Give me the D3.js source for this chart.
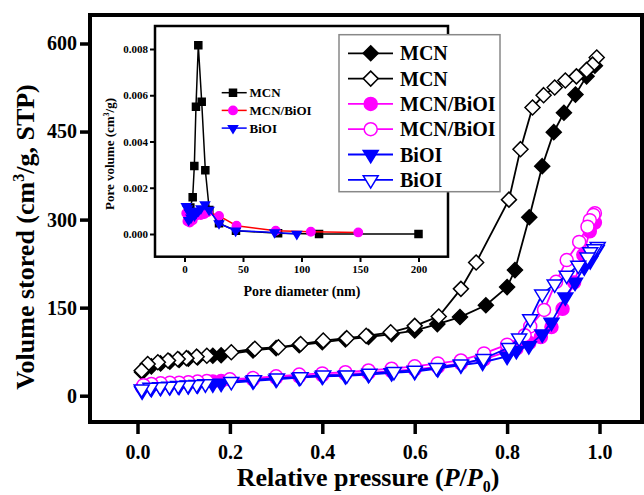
<!DOCTYPE html>
<html><head><meta charset="utf-8">
<script src="https://cdn.jsdelivr.net/npm/d3@7"></script>
<style>
html,body{margin:0;padding:0;background:#fff;}
svg text{font-family:"Liberation Serif","Times New Roman",serif;font-weight:bold;}
</style></head>
<body><svg id="c" width="644" height="495"></svg>
<script>
// ---------- main isotherm data ----------
const mcnAdsP = [0.01,0.03,0.05,0.07,0.09,0.11,0.13,0.163,0.181,0.25,0.3,0.35,0.4,0.45,0.5,0.55,0.6,0.649,0.698,0.754,0.8,0.817,0.848,0.876,0.901,0.923,0.948,0.972,0.99];
const mcnAdsV = [40,50,55,58,61,63,65,68,69,77,81,86,91,96,100,105,111,122,134,154,185,214,304,391,449,482,513,544,562];
const mcnDesP = [0.994,0.985,0.972,0.95,0.926,0.903,0.879,0.855,0.829,0.804,0.733,0.7,0.652,0.6,0.548,0.495,0.453,0.402,0.353,0.305,0.254,0.203,0.15,0.128,0.106,0.087,0.066,0.044,0.022,0.009];
const mcnDesV = [576,564,555,544,537,525,512,491,420,334,227,182,135,119,108,102,98,94,88,82.5,80,74,68,66.5,64,62.6,60,57,54,42.7];

const compAdsP = [0.01,0.03,0.05,0.07,0.09,0.11,0.13,0.163,0.181,0.25,0.3,0.35,0.4,0.45,0.5,0.55,0.6,0.65,0.7,0.75,0.8,0.82,0.848,0.873,0.896,0.92,0.945,0.965,0.979,0.99];
const compAdsV = [14,17,19,20,21,22,23,24,25,28,31,33,35,37,39,42,45,49,55,62,75,80,90,100,117,148,193,240,280,295];
const compDesP = [0.99,0.987,0.979,0.974,0.956,0.929,0.906,0.88,0.85,0.838,0.8,0.75,0.7,0.65,0.6,0.55,0.5,0.45,0.4,0.35,0.3,0.25,0.2,0.15,0.13,0.11,0.09,0.07,0.05,0.03,0.013];
const compDesV = [311,308,299,288,262,231,194,146,118,103,87,72,60,55,50,46,43,40,38,36,33,30,28,25,24,23,22,22,21,20,18];

const bioiAdsP = [0.01,0.03,0.05,0.07,0.09,0.11,0.13,0.163,0.181,0.25,0.3,0.35,0.4,0.45,0.5,0.55,0.6,0.65,0.7,0.747,0.8,0.82,0.847,0.876,0.896,0.926,0.947,0.967,0.98,0.994];
const bioiAdsV = [8,12,14,15,16,17,18,20,21,25,28,31,33,34,36,39,41,46,52,57,67,77,85,105,125,168,193,219,230,249];
const bioiDesP = [0.996,0.989,0.98,0.974,0.954,0.929,0.903,0.876,0.85,0.826,0.804,0.749,0.7,0.647,0.6,0.555,0.502,0.453,0.402,0.353,0.302,0.252,0.203,0.147,0.128,0.109,0.088,0.069,0.049,0.028,0.009];
const bioiDesV = [254,250,245,236,222,205,190,173,131,98,82,63,54,48,43,41,38,35,35,32,30,27,24,20,19,18,17,16,15,14,11];

const xTicks = [0.0,0.2,0.4,0.6,0.8,1.0];
const yTicks = [0,150,300,450,600];
const legendLabels = ["MCN","MCN","MCN/BiOI","MCN/BiOI","BiOI","BiOI"];

// ---------- inset pore size data ----------
const inMcnD = [3,5,7,8.4,9.8,11.8,14.7,17.8,21.2,29.5,44,80,115,200];
const inMcnV = [0.0009,0.00115,0.00159,0.00294,0.0055,0.00816,0.00572,0.00276,0.00104,0.00046,0.00014,0.00003,0.0,0.0];
const inCompD = [1.5,2.5,3.5,4.5,5.5,7,8.5,10,12,14,17,20,29.5,44.5,78,108,148.5];
const inCompV = [0.0009,0.00055,0.0007,0.0005,0.0008,0.0006,0.0009,0.0008,0.00085,0.00082,0.00086,0.00095,0.00078,0.00036,0.00014,0.0001,0.00007];
const inBioiD = [1.5,2.5,3.5,4.5,5.5,7,8.5,10,12,14,17.5,21,29.5,43.7,77,96];
const inBioiV = [0.0012,0.0011,0.0006,0.0009,0.0007,0.001,0.0008,0.0009,0.001,0.0011,0.00128,0.00104,0.00046,0.00014,0.00007,0.0];
const inXTicks = [0,50,100,150,200];
const inYTicks = [0,0.002,0.004,0.006,0.008];
const inLegend = ["MCN","MCN/BiOI","BiOI"];

const svg = d3.select("#c");
const zip = (a,b)=>a.map((v,i)=>[v,b[i]]);

function markerPath(type, s){
  if(type==="diamond") return `M0,${-s}L${s},0L0,${s}L${-s},0Z`;
  if(type==="tri") return `M${-s},${-s*0.55}L${s},${-s*0.55}L0,${s*1.1}Z`;
  if(type==="square") return `M${-s},${-s}H${s}V${s}H${-s}Z`;
  return null;
}
function drawMarker(g, type, size, cx, cy, color, filled){
  if(type==="circle"){
    g.append("circle").attr("cx",cx).attr("cy",cy).attr("r",size)
     .attr("fill",filled?color:"#fff").attr("stroke",color).attr("stroke-width",1.5);
  } else {
    g.append("path").attr("d",markerPath(type,size)).attr("transform",`translate(${cx},${cy})`)
     .attr("fill",filled?color:"#fff").attr("stroke",color).attr("stroke-width",1.5);
  }
}

// ---------- main plot ----------
const x = d3.scaleLinear().domain([0,1]).range([137.5,599.5]);
const y = d3.scaleLinear().domain([0,600]).range([395.7,43.5]);
const line = d3.line().x(d=>x(d[0])).y(d=>y(d[1]));

const series = [
  {p:mcnAdsP,v:mcnAdsV,color:"#000",type:"diamond",size:7.5,filled:true},
  {p:mcnDesP,v:mcnDesV,color:"#000",type:"diamond",size:7.5,filled:false},
  {p:compAdsP,v:compAdsV,color:"#ff00ff",type:"circle",size:6.5,filled:true},
  {p:compDesP,v:compDesV,color:"#ff00ff",type:"circle",size:6.5,filled:false},
  {p:bioiAdsP,v:bioiAdsV,color:"#0000ff",type:"tri",size:7.5,filled:true},
  {p:bioiDesP,v:bioiDesV,color:"#0000ff",type:"tri",size:7.5,filled:false}
];

const plot = svg.append("g");
series.forEach(s=>{
  const data = zip(s.p,s.v);
  plot.append("path").datum(data).attr("d",line).attr("fill","none")
    .attr("stroke",s.color).attr("stroke-width",1.8);
  const mg = plot.append("g");
  data.forEach(d=>drawMarker(mg,s.type,s.size,x(d[0]),y(d[1]),s.color,s.filled));
});

// frame
svg.append("rect").attr("x",90).attr("y",15).attr("width",552).attr("height",407)
  .attr("fill","none").attr("stroke","#000").attr("stroke-width",4);

// axes
const xAxis = svg.append("g").attr("transform","translate(0,424)")
  .call(d3.axisBottom(x).tickValues(xTicks).tickFormat(d3.format(".1f")).tickSize(10).tickPadding(6));
const yAxis = svg.append("g").attr("transform","translate(88,0)")
  .call(d3.axisLeft(y).tickValues(yTicks).tickSize(8).tickPadding(3));
[xAxis,yAxis].forEach(a=>{
  a.select(".domain").remove();
  a.selectAll(".tick line").attr("stroke","#000").attr("stroke-width",3.5);
  a.selectAll(".tick text").attr("fill","#000").style("font-size","20px")
   .style("font-family","'Liberation Serif',serif").style("font-weight","bold");
});
xAxis.selectAll(".tick text").attr("dy","0.95em");

// axis titles
const xt = svg.append("text").attr("x",368).attr("y",486).attr("text-anchor","middle").style("font-size","26px");
xt.append("tspan").text("Relative pressure (");
xt.append("tspan").attr("font-style","italic").text("P");
xt.append("tspan").text("/");
xt.append("tspan").attr("font-style","italic").text("P");
xt.append("tspan").attr("dy",6).style("font-size","16px").text("0");
xt.append("tspan").attr("dy",-6).text(")");

const yt = svg.append("text").attr("transform","translate(34,237) rotate(-90)").attr("text-anchor","middle").style("font-size","26px");
yt.append("tspan").text("Volume stored (cm");
yt.append("tspan").attr("dy",-10).style("font-size","16px").text("3");
yt.append("tspan").attr("dy",10).text("/g, STP)");

// ---------- inset ----------
const ix = d3.scaleLinear().domain([0,200]).range([184.5,418.5]);
const iy = d3.scaleLinear().domain([0,0.008]).range([234,49]);
const iline = d3.line().x(d=>ix(d[0])).y(d=>iy(d[1]));
const ins = svg.append("g");
ins.append("rect").attr("x",155).attr("y",26).attr("width",293).attr("height",230.7)
  .attr("fill","#fff").attr("stroke","#000").attr("stroke-width",2.5);

const inSeries = [
  {d:inMcnD,v:inMcnV,line:"#000",color:"#000",type:"square",size:3.5},
  {d:inCompD,v:inCompV,line:"#ff0000",color:"#ff00ff",type:"circle",size:4.2},
  {d:inBioiD,v:inBioiV,line:"#0000ff",color:"#0000ff",type:"tri",size:4.5}
];
inSeries.forEach(s=>{
  const data = zip(s.d,s.v);
  ins.append("path").datum(data).attr("d",iline).attr("fill","none")
    .attr("stroke",s.line).attr("stroke-width",1.5);
  const mg = ins.append("g");
  data.forEach(d=>drawMarker(mg,s.type,s.size,ix(d[0]),iy(d[1]),s.color,true));
});

const ixAxis = ins.append("g").attr("transform","translate(0,258)")
  .call(d3.axisBottom(ix).tickValues(inXTicks).tickSize(4).tickPadding(3));
const iyAxis = ins.append("g").attr("transform","translate(154,0)")
  .call(d3.axisLeft(iy).tickValues(inYTicks).tickFormat(d3.format(".3f")).tickSize(4).tickPadding(2));
[ixAxis,iyAxis].forEach(a=>{
  a.select(".domain").remove();
  a.selectAll(".tick line").attr("stroke","#000").attr("stroke-width",2);
  a.selectAll(".tick text").attr("fill","#000").style("font-size","11px")
   .style("font-family","'Liberation Serif',serif").style("font-weight","bold");
});
ins.append("text").attr("x",302).attr("y",295.5).attr("text-anchor","middle").style("font-size","14px").text("Pore diameter (nm)");
const iyt = ins.append("text").attr("transform","translate(114,154) rotate(-90)").attr("text-anchor","middle").style("font-size","13px");
iyt.append("tspan").text("Pore volume (cm");
iyt.append("tspan").attr("dy",-5).style("font-size","8px").text("3");
iyt.append("tspan").attr("dy",5).text("/g)");

// inset legend
inSeries.forEach((s,i)=>{
  const yy = 92.7 + i*17.7;
  ins.append("line").attr("x1",221.7).attr("x2",246.7).attr("y1",yy).attr("y2",yy)
    .attr("stroke",s.line).attr("stroke-width",1.5);
  drawMarker(ins,s.type,s.size,233,yy,s.color,true);
  ins.append("text").attr("x",249.5).attr("y",yy+4.5).style("font-size","13px").text(inLegend[i]);
});

// ---------- main legend ----------
const lg = svg.append("g");
lg.append("rect").attr("x",339).attr("y",34.7).attr("width",161).attr("height",157)
  .attr("fill","#fff").attr("stroke","#888").attr("stroke-width",1.5);
series.forEach((s,i)=>{
  const yy = 53.3 + i*25.3;
  lg.append("line").attr("x1",348).attr("x2",393).attr("y1",yy).attr("y2",yy)
    .attr("stroke",s.color).attr("stroke-width",1.8);
  drawMarker(lg,s.type,s.size,370.7,yy,s.color,s.filled);
  lg.append("text").attr("x",400).attr("y",yy+7).style("font-size","20px").text(legendLabels[i]);
});
</script></body></html>
